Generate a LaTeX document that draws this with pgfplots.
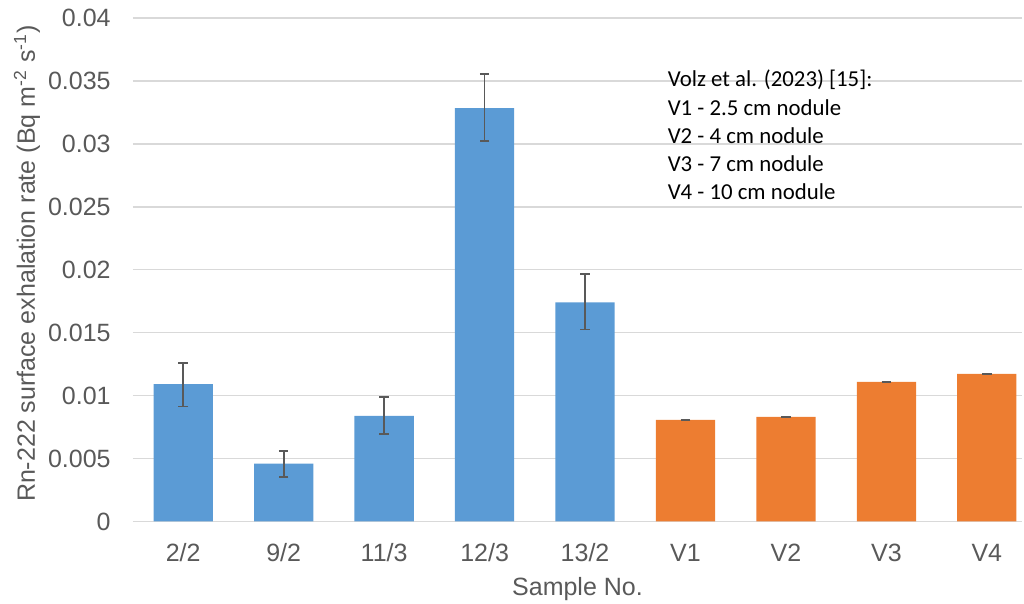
\documentclass[border=0pt]{standalone}
\usepackage{fontspec}
\setmainfont{Liberation Sans}
\newfontfamily\calibri{Carlito}
\usepackage{pgfplots}
\pgfplotsset{compat=1.18}
\definecolor{barblue}{HTML}{5B9BD5}
\definecolor{barorange}{HTML}{ED7D31}
\definecolor{gridgray}{HTML}{D9D9D9}
\definecolor{txtgray}{HTML}{595959}
\begin{document}
\begin{tikzpicture}
\begin{axis}[name=ax, scale only axis, width=444.5pt, height=251.7pt,
  xmin=-0.5, xmax=8.35, ymin=0, ymax=0.04,
  scaled y ticks=false,
  axis line style={draw=none},
  ymajorgrids, grid style={gridgray, line width=0.65pt},
  major tick length=0,
  xtick={0,1,2,3,4,5,6,7,8},
  xticklabels={2/2,9/2,11/3,12/3,13/2,V1,V2,V3,V4},
  ytick={0,0.005,0.01,0.015,0.02,0.025,0.03,0.035,0.04},
  yticklabels={0,0.005,0.01,0.015,0.02,0.025,0.03,0.035,0.04},
  tick label style={font=\fontsize{12.5}{15}\selectfont, text=txtgray},
  xticklabel style={anchor=center, yshift=-15.75pt},
  yticklabel style={anchor=east, inner sep=0pt, xshift=-11pt},
  xlabel={Sample No.},
  ylabel={Rn-222 surface exhalation rate (Bq m\textsuperscript{-2} s\textsuperscript{-1})},
  label style={font=\fontsize{12.5}{15}\selectfont, text=txtgray},
  xlabel style={at={(axis description cs:0.5,0)}, anchor=center, yshift=-34pt},
  ylabel style={at={(axis description cs:0,0.5)}, anchor=center, yshift=53pt, xshift=3pt},
  ybar, bar width=0.59, bar shift=0pt,
  clip=false,
]
\addplot[fill=barblue, draw=none,
  error bars/.cd, y dir=both, y explicit,
  error bar style={color=txtgray, line width=0.9pt},
  error mark options={rotate=90, mark size=2.4pt, line width=0.9pt, color=txtgray}]
  coordinates {
  (0,0.01091) += (0,0.00171) -= (0,0.00178)
  (1,0.00459) += (0,0.00104) -= (0,0.00103)
  (2,0.00839) += (0,0.00151) -= (0,0.00146)
  (3,0.03285) += (0,0.00272) -= (0,0.00263)
  (4,0.01742) += (0,0.00223) -= (0,0.00217)
  };
\addplot[fill=barorange, draw=none,
  error bars/.cd, y dir=both, y explicit,
  error bar style={color=txtgray, line width=0.9pt},
  error mark options={rotate=90, mark size=2.4pt, line width=0.9pt, color=txtgray}]
  coordinates {
  (5,0.00807) +- (0,0.00003)
  (6,0.00831) +- (0,0.00003)
  (7,0.01109) +- (0,0.00003)
  (8,0.01172) +- (0,0.00003)
  };
\node[anchor=north west, align=left, inner sep=0pt,
  font=\calibri\fontsize{11.4}{14.15}\selectfont] at (axis cs:4.82,0.0359)
  {Volz et al. (2023) [15]:\\V1 - 2.5 cm nodule\\V2 - 4 cm nodule\\V3 - 7 cm nodule\\V4 - 10 cm nodule};
\end{axis}
\pgfresetboundingbox
\path ([xshift=-66.5pt,yshift=-41.25pt]ax.south west) rectangle ([xshift=1pt,yshift=9.05pt]ax.north east);
\end{tikzpicture}
\end{document}
